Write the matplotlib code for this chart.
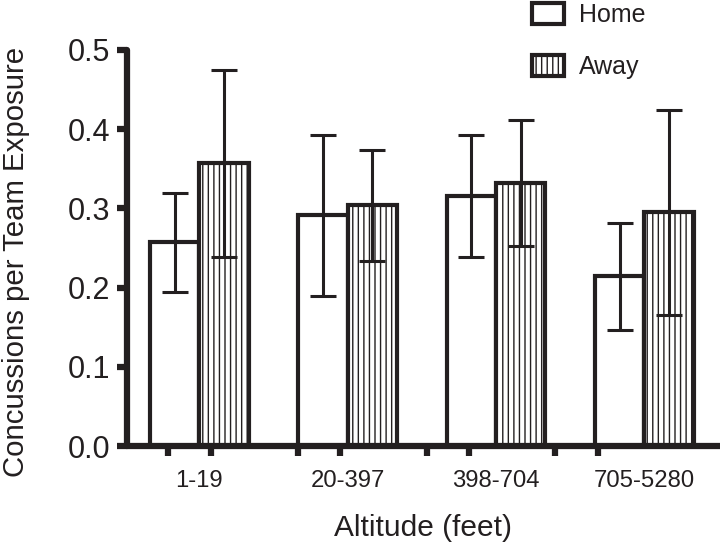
import matplotlib
matplotlib.use("Agg")
import matplotlib.pyplot as plt
import numpy as np
from matplotlib.patches import Patch

plt.rcParams['font.family'] = ['Liberation Sans', 'DejaVu Sans']
plt.rcParams['hatch.linewidth'] = 1.0
ink = "#231f20"

# data
groups = ["1-19", "20-397", "398-704", "705-5280"]
home = [0.257, 0.291, 0.316, 0.214]
home_err = [0.062, 0.101, 0.077, 0.067]
away = [0.357, 0.304, 0.332, 0.295]
away_err = [0.118, 0.070, 0.079, 0.129]

x = np.arange(len(groups))
w = 0.333

fig = plt.figure(figsize=(7.2, 5.48), dpi=100)
ax = fig.add_axes([0.176, 0.186, 0.824, 0.723])

ax.bar(x - w / 2, home, w, color="white", edgecolor=ink, linewidth=3)
ax.bar(x + w / 2, away, w, color="white", edgecolor=ink, linewidth=3, hatch="|||")
ax.errorbar(x - w / 2, home, yerr=home_err, fmt="none", ecolor=ink,
            elinewidth=2.2, capsize=9.5, capthick=2.2)
ax.errorbar(x + w / 2, away, yerr=away_err, fmt="none", ecolor=ink,
            elinewidth=2.2, capsize=9.5, capthick=2.2)

ax.set_xlim(-0.49, 3.51)
ax.set_ylim(0, 0.5)
ax.set_yticks([0, 0.1, 0.2, 0.3, 0.4, 0.5])
ax.set_yticklabels(["0.0", "0.1", "0.2", "0.3", "0.4", "0.5"])

# labels sit at group centres, tick marks are offset like in the original
ax.xaxis.remove_overlapping_locs = False
ax.set_xticks(x)
ax.set_xticklabels(groups, fontsize=17.2)
ax.tick_params(axis="x", which="major", length=0, pad=17, labelcolor=ink)
ax.set_xticks([-0.209, 0.081, 0.662, 0.946, 1.534, 1.818, 2.399, 2.689], minor=True)
ax.tick_params(axis="x", which="minor", length=7, width=4.5, color=ink, direction="out")
ax.tick_params(axis="y", length=7, width=4.5, color=ink, labelsize=22, pad=5, labelcolor=ink)

for s in ["top", "right"]:
    ax.spines[s].set_visible(False)
for s in ["left", "bottom"]:
    ax.spines[s].set_linewidth(4.5)
    ax.spines[s].set_color(ink)
    ax.spines[s].set_capstyle("round")

ax.set_ylabel("Concussions per Team Exposure", fontsize=21.2, color=ink)
ax.yaxis.set_label_coords(-0.163, 0.465)
ax.set_xlabel("Altitude (feet)", fontsize=21.5, color=ink)
ax.xaxis.set_label_coords(0.5, -0.172)

handles = [Patch(facecolor="white", edgecolor=ink, linewidth=3, label="Home"),
           Patch(facecolor="white", edgecolor=ink, linewidth=3, hatch="|||", label="Away")]
leg = fig.legend(handles=handles, loc="upper left", bbox_to_anchor=(0.708, 1.035), frameon=False,
                 fontsize=18, handlelength=1.25, handleheight=0.9, labelspacing=1.1, handletextpad=0.6)
for t in leg.get_texts():
    t.set_color(ink)

fig.savefig("out.png", dpi=100)
